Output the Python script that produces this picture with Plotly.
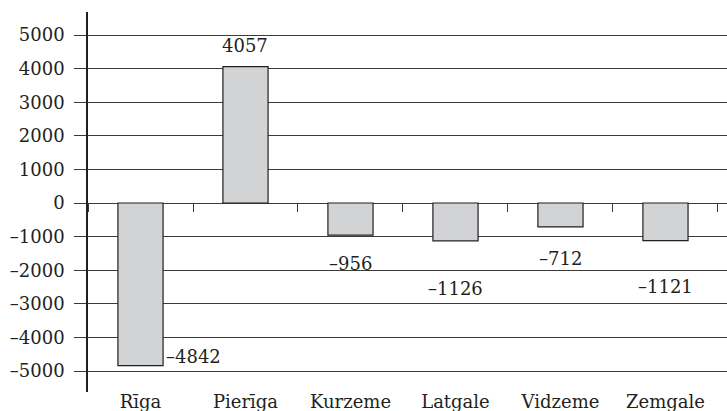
import plotly.graph_objects as go

regions = ["Rīga", "Pierīga", "Kurzeme", "Latgale", "Vidzeme", "Zemgale"]
values = [-4842, 4057, -956, -1126, -712, -1121]
value_labels = ["–4842", "4057", "–956", "–1126", "–712", "–1121"]
y_ticks = [5000, 4000, 3000, 2000, 1000, 0, -1000, -2000, -3000, -4000, -5000]
y_tick_labels = ["5000", "4000", "3000", "2000", "1000", "0", "–1000", "–2000", "–3000", "–4000", "–5000"]

# label placement (style only): (xanchor, yanchor, xshift, yshift)
label_pos = [("left", "middle", 23, 9), ("center", "bottom", 0, 9), ("center", "top", 0, -16),
             ("center", "top", 0, -35), ("center", "top", 0, -19), ("center", "top", 0, -33)]

FONT = "DejaVu Serif"
FS = 18
TXT = "#231f20"
LINE = "#3a3a3a"
y_range = [-5625, 5685]
x_range = [-0.5, 5.586]

fig = go.Figure()
fig.add_trace(go.Bar(
    x=regions, y=values, width=0.43,
    marker=dict(color="#d1d3d4", line=dict(color="#231f20", width=1.2)),
    hoverinfo="skip", showlegend=False,
))
# invisible trace to host the zero-line category tick axis
fig.add_trace(go.Scatter(x=regions, y=values, xaxis="x2", mode="none",
                         hoverinfo="skip", showlegend=False))

for r, v, t, (xa, ya, xs, ys) in zip(regions, values, value_labels, label_pos):
    fig.add_annotation(x=r, y=v, text=t, showarrow=False, xanchor=xa, yanchor=ya,
                       xshift=xs, yshift=ys, font=dict(family=FONT, size=FS, color=TXT))

zero_pos = (0 - y_range[0]) / (y_range[1] - y_range[0])

fig.update_layout(
    width=727, height=411,
    margin=dict(l=88, r=0, t=12, b=19, autoexpand=False),
    plot_bgcolor="white", paper_bgcolor="white",
    font=dict(family=FONT, size=FS, color=TXT),
    xaxis=dict(type="category", categoryarray=regions, range=x_range,
               showgrid=False, showline=False, zeroline=False, ticks="",
               automargin=False, ticklabelstandoff=-3,
               tickfont=dict(family=FONT, size=FS, color=TXT)),
    xaxis2=dict(type="category", categoryarray=regions, range=x_range,
                overlaying="x", anchor="free", position=zero_pos, side="bottom",
                tickson="boundaries", ticks="outside", ticklen=8, tickwidth=1.2,
                tickcolor=LINE, showticklabels=False, showgrid=False,
                showline=False, zeroline=False, automargin=False),
    yaxis=dict(range=y_range, tickvals=y_ticks, ticktext=y_tick_labels,
               showgrid=True, gridcolor=LINE, gridwidth=1.2,
               zeroline=True, zerolinecolor=LINE, zerolinewidth=1.2,
               showline=True, linecolor="#231f20", linewidth=1.5,
               ticks="outside", ticklen=12, tickwidth=1.2, tickcolor=LINE,
               automargin=False, ticklabelstandoff=6,
               tickfont=dict(family=FONT, size=FS, color=TXT)),
)

fig.write_html("out.html", config={"displayModeBar": False},
               post_script="document.body.style.margin='0';document.body.style.overflow='hidden';")
